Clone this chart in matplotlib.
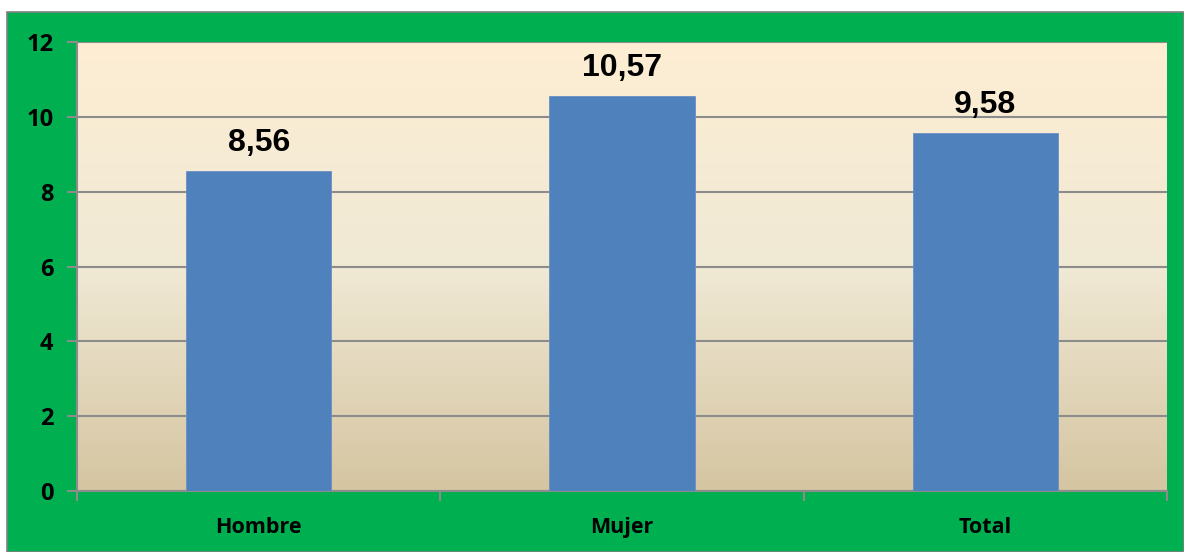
import numpy as np
import matplotlib.pyplot as plt
from matplotlib.patches import Rectangle
from matplotlib.colors import LinearSegmentedColormap

categories = ["Hombre", "Mujer", "Total"]
values = [8.56, 10.57, 9.58]
value_labels = ["8,56", "10,57", "9,58"]
y_ticks = [0, 2, 4, 6, 8, 10, 12]

fig = plt.figure(figsize=(11.84, 5.52), dpi=100)
fig.patch.set_facecolor("white")

# green frame behind the chart
frame = Rectangle((7 / 1184, 0), 1 - 7 / 1184, 1 - 12 / 552, transform=fig.transFigure,
                  facecolor="#00B050", edgecolor="#808080", linewidth=1.2, zorder=-10)
fig.patches.append(frame)

ax = fig.add_axes([77 / 1184, 61 / 552, 1090 / 1184, 449 / 552])
ax.set_facecolor("none")

# beige gradient plot area
cmap = LinearSegmentedColormap.from_list("bg", ["#D5C5A1", "#F0E9D5", "#FDEED3"])
grad = np.linspace(0, 1, 256).reshape(-1, 1)
ax.imshow(grad, cmap=cmap, aspect="auto", origin="lower",
          extent=[-0.5, 2.5, 0, 12], zorder=0)

x = np.arange(len(categories))
ax.bar(x, values, width=0.4, color="#4F81BD", edgecolor="#6A8FC4", linewidth=0.6, zorder=3)

for xi, v, lab in zip(x, values, value_labels):
    ax.annotate(lab, (xi, v), xytext=(0, 9), textcoords="offset points",
                ha="center", va="bottom", fontsize=23, fontweight="bold",
                family="Liberation Sans", color="black", zorder=4)

ax.set_xlim(-0.5, 2.5)
ax.set_ylim(0, 12)
ax.set_yticks(y_ticks)
ax.set_yticklabels([str(t) for t in y_ticks], fontsize=17, fontweight="bold", family="Open Sans")
ax.set_xticks(x)
ax.set_xticklabels(categories, fontsize=15.5, fontweight="bold", family="Open Sans")
ax.tick_params(axis="x", length=0, pad=19)
ax.tick_params(axis="y", length=7, width=1.5, color="#8C8C8C", pad=10)
ax.set_xticks([0.5, 1.5, 2.5, -0.5], minor=True)
ax.tick_params(axis="x", which="minor", length=7, width=1.5, color="#8C8C8C")

ax.yaxis.grid(True, color="#8C8C8C", linewidth=1.5, zorder=1)
ax.set_axisbelow(False)
for s in ["left", "bottom", "top", "right"]:
    ax.spines[s].set_color("#8C8C8C")
    ax.spines[s].set_linewidth(1.5)
ax.spines["top"].set_visible(False)
ax.spines["right"].set_visible(False)

fig.savefig("out.png", dpi=100)
